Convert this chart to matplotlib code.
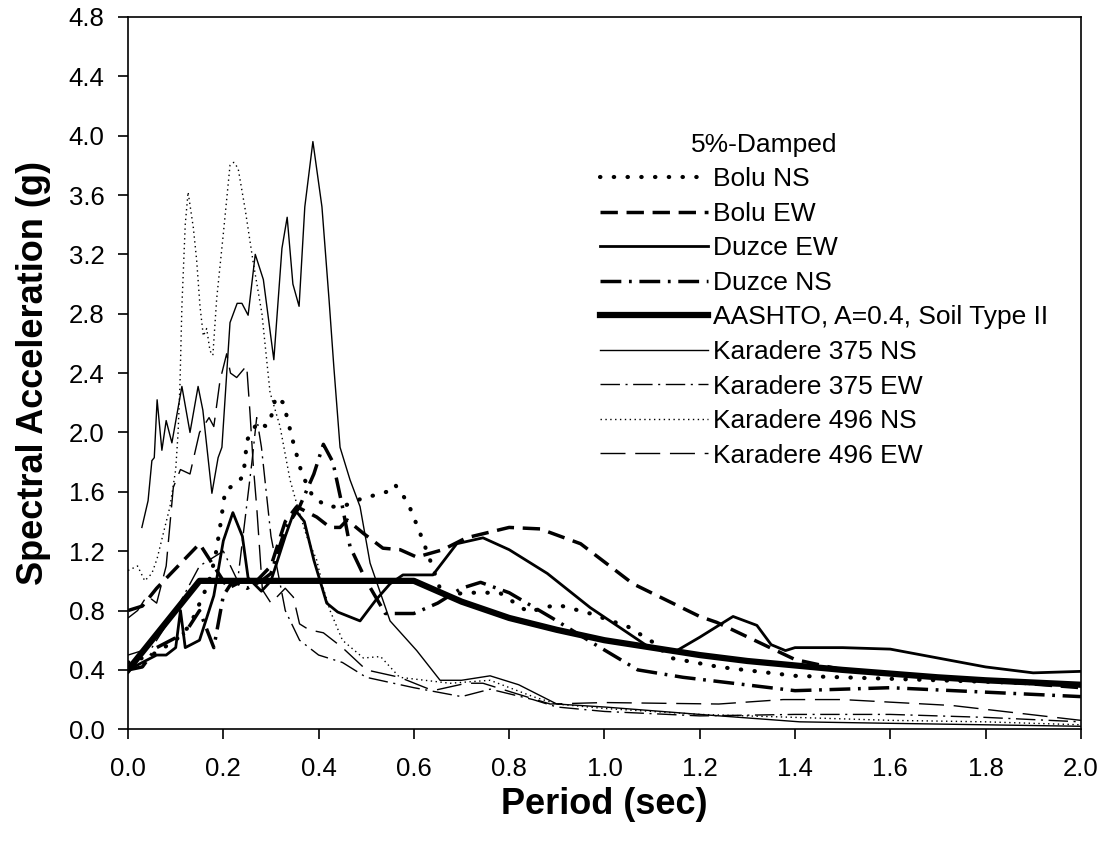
import numpy as np
import matplotlib
matplotlib.use("Agg")
import matplotlib.pyplot as plt

plt.rcParams['font.family'] = ['Liberation Sans', 'DejaVu Sans']

# --- data ---
bolu_ns_t = [0.0, 0.05, 0.1, 0.13, 0.16, 0.172, 0.183, 0.193, 0.204, 0.23, 0.242, 0.25, 0.272, 0.29, 0.3,
             0.31, 0.326, 0.347, 0.365, 0.389, 0.42, 0.45, 0.487, 0.543, 0.56, 0.587, 0.612, 0.634, 0.66,
             0.71, 0.78, 0.84, 0.9, 0.97, 1.05, 1.1, 1.14, 1.24, 1.4, 1.6, 1.8, 2.0]
bolu_ns_sa = [0.45, 0.5, 0.6, 0.7, 0.92, 1.02, 1.16, 1.36, 1.61, 1.66, 1.71, 1.95, 2.07, 2.04, 2.1,
              2.24, 2.2, 1.93, 1.72, 1.56, 1.5, 1.5, 1.55, 1.6, 1.65, 1.53, 1.33, 1.14, 0.9,
              0.92, 0.92, 0.79, 0.84, 0.78, 0.69, 0.59, 0.48, 0.42, 0.36, 0.34, 0.32, 0.3]

bolu_ew_t = [0.0, 0.03, 0.06, 0.09, 0.12, 0.15, 0.18, 0.21, 0.24, 0.27, 0.3, 0.33, 0.354, 0.396, 0.424,
             0.445, 0.46, 0.494, 0.535, 0.571, 0.606, 0.661, 0.71, 0.8, 0.865, 0.95, 1.06, 1.2, 1.236,
             1.4, 1.5, 1.6, 1.8, 2.0]
bolu_ew_sa = [0.8, 0.83, 0.95, 1.05, 1.15, 1.25, 1.1, 0.95, 1.0, 1.0, 1.1, 1.4, 1.5, 1.43, 1.36,
              1.36, 1.41, 1.32, 1.22, 1.21, 1.16, 1.21, 1.29, 1.36, 1.35, 1.25, 0.98, 0.76, 0.72,
              0.47, 0.4, 0.37, 0.33, 0.28]

duzce_ew_t = [0.0, 0.03, 0.06, 0.08, 0.1, 0.11, 0.12, 0.15, 0.18, 0.2, 0.22, 0.24, 0.252, 0.28, 0.3,
              0.33, 0.35, 0.37, 0.39, 0.417, 0.44, 0.487, 0.52, 0.55, 0.577, 0.64, 0.69, 0.745, 0.8,
              0.88, 0.97, 1.095, 1.152, 1.2, 1.27, 1.32, 1.35, 1.38, 1.4, 1.5, 1.6, 1.7, 1.8, 1.9, 2.0]
duzce_ew_sa = [0.4, 0.45, 0.5, 0.5, 0.55, 0.8, 0.55, 0.6, 0.9, 1.27, 1.46, 1.3, 1.02, 0.93, 1.0,
               1.3, 1.48, 1.4, 1.14, 0.85, 0.79, 0.73, 0.87, 0.98, 1.04, 1.04, 1.25, 1.29, 1.21,
               1.05, 0.82, 0.55, 0.53, 0.62, 0.76, 0.7, 0.57, 0.53, 0.55, 0.55, 0.54, 0.48, 0.42, 0.38, 0.39]

duzce_ns_t = [0.0, 0.03, 0.06, 0.09, 0.12, 0.15, 0.18, 0.2, 0.22, 0.25, 0.28, 0.3, 0.33, 0.36, 0.39,
              0.41, 0.43, 0.45, 0.466, 0.5, 0.54, 0.6, 0.65, 0.7, 0.74, 0.8, 0.89, 0.976, 1.07, 1.165,
              1.27, 1.4, 1.6, 1.8, 2.0]
duzce_ns_sa = [0.4, 0.42, 0.55, 0.6, 0.65, 0.8, 0.55, 0.9, 1.0, 0.95, 1.0, 1.05, 1.35, 1.5, 1.72,
               1.92, 1.8, 1.5, 1.23, 1.0, 0.78, 0.78, 0.85, 0.95, 0.99, 0.92, 0.75, 0.58, 0.4, 0.35,
               0.31, 0.26, 0.28, 0.25, 0.22]

aashto_t = [0.0, 0.15, 0.6, 0.7, 0.8, 0.9, 1.0, 1.1, 1.2, 1.3, 1.4, 1.5, 1.6, 1.7, 1.8, 1.9, 2.0]
aashto_sa = [0.4, 1.0, 1.0, 0.86, 0.75, 0.67, 0.6, 0.55, 0.5, 0.46, 0.43, 0.4, 0.375, 0.35, 0.33, 0.315, 0.3]

k375ns_t = [0.029, 0.042, 0.05, 0.055, 0.061, 0.071, 0.08, 0.092, 0.113, 0.13, 0.147, 0.157, 0.176,
            0.189, 0.197, 0.214, 0.229, 0.239, 0.252, 0.267, 0.284, 0.306, 0.323, 0.334, 0.346, 0.359,
            0.371, 0.388, 0.407, 0.422, 0.432, 0.445, 0.466, 0.487, 0.508, 0.55, 0.606, 0.655, 0.7,
            0.76, 0.82, 0.9, 1.0, 1.2, 1.41, 1.6, 1.8, 2.0]
k375ns_sa = [1.36, 1.54, 1.81, 1.83, 2.22, 1.88, 2.08, 1.93, 2.31, 2.0, 2.31, 2.15, 1.59,
             1.83, 1.9, 2.74, 2.87, 2.87, 2.79, 3.2, 3.03, 2.49, 3.24, 3.45, 3.0, 2.85,
             3.52, 3.96, 3.52, 2.89, 2.44, 1.9, 1.68, 1.5, 1.12, 0.73, 0.53, 0.33, 0.33,
             0.36, 0.3, 0.17, 0.15, 0.1, 0.05, 0.04, 0.03, 0.02]

k375ew_t = [0.0, 0.05, 0.1, 0.15, 0.2, 0.23, 0.26, 0.27, 0.28, 0.3, 0.33, 0.36, 0.4, 0.45, 0.5, 0.6,
            0.7, 0.76, 0.85, 0.9, 1.0, 1.2, 1.4, 1.6, 1.8, 2.0]
k375ew_sa = [0.5, 0.55, 0.8, 1.1, 1.2, 1.0, 1.8, 2.1, 1.9, 1.3, 0.8, 0.6, 0.5, 0.45, 0.35, 0.28,
             0.22, 0.27, 0.2, 0.15, 0.12, 0.09, 0.1, 0.1, 0.08, 0.05]

k496ns_t = [0.0, 0.02, 0.035, 0.05, 0.061, 0.074, 0.088, 0.1, 0.105, 0.109, 0.113, 0.12, 0.126, 0.137,
            0.144, 0.151, 0.158, 0.165, 0.172, 0.178, 0.186, 0.2, 0.214, 0.222, 0.231, 0.246, 0.262,
            0.281, 0.298, 0.319, 0.34, 0.354, 0.375, 0.396, 0.41, 0.424, 0.45, 0.494, 0.53, 0.57,
            0.676, 0.76, 0.85, 0.9, 1.0, 1.2, 1.4, 1.6, 1.8, 2.0]
k496ns_sa = [1.07, 1.1, 1.0, 1.05, 1.15, 1.32, 1.5, 1.75, 2.0, 2.33, 2.85, 3.4, 3.62, 3.38,
             3.16, 2.85, 2.65, 2.7, 2.55, 2.52, 2.9, 3.34, 3.8, 3.82, 3.78, 3.5, 3.16,
             2.8, 2.27, 2.04, 1.68, 1.52, 1.3, 1.14, 0.95, 0.8, 0.6, 0.48, 0.49, 0.35,
             0.31, 0.33, 0.22, 0.17, 0.14, 0.1, 0.08, 0.06, 0.05, 0.03]

k496ew_t = [0.0, 0.02, 0.04, 0.06, 0.08, 0.095, 0.11, 0.13, 0.15, 0.17, 0.18, 0.193, 0.207, 0.215,
            0.228, 0.249, 0.256, 0.263, 0.27, 0.282, 0.3, 0.33, 0.347, 0.36, 0.38, 0.41, 0.45, 0.5,
            0.57, 0.64, 0.71, 0.745, 0.815, 0.886, 1.0, 1.24, 1.375, 1.5, 1.73, 2.0]
k496ew_sa = [0.75, 0.8, 0.9, 0.85, 1.1, 1.63, 1.75, 1.72, 2.0, 2.1, 2.04, 2.35, 2.53, 2.4,
             2.37, 2.45, 2.13, 1.77, 1.5, 0.94, 0.85, 0.95, 0.89, 0.71, 0.67, 0.65, 0.55, 0.4,
             0.35, 0.26, 0.31, 0.31, 0.24, 0.17, 0.18, 0.17, 0.2, 0.2, 0.16, 0.06]

fig = plt.figure(figsize=(11.04, 8.46), dpi=100)
ax = fig.add_axes([0.116, 0.138, 0.863, 0.842])

ax.plot(bolu_ns_t, bolu_ns_sa, color='k', lw=3, linestyle=(0, (0.1, 3.2)), dash_capstyle='round',
        label='Bolu NS')
ax.plot(bolu_ew_t, bolu_ew_sa, color='k', lw=2.5, linestyle=(0, (5, 2.5)), label='Bolu EW')
ax.plot(duzce_ew_t, duzce_ew_sa, color='k', lw=2, label='Duzce EW')
ax.plot(duzce_ns_t, duzce_ns_sa, color='k', lw=2.5, linestyle=(0, (6, 2.2, 0.8, 2.2)), label='Duzce NS')
ax.plot(aashto_t, aashto_sa, color='k', lw=4.5, label='AASHTO, A=0.4, Soil Type II')
ax.plot(k375ns_t, k375ns_sa, color='k', lw=1, label='Karadere 375 NS')
ax.plot(k375ew_t, k375ew_sa, color='k', lw=1, linestyle=(0, (14, 4, 1.5, 4)), label='Karadere 375 EW')
ax.plot(k496ns_t, k496ns_sa, color='k', lw=1, linestyle=(0, (1, 2.5)), label='Karadere 496 NS')
ax.plot(k496ew_t, k496ew_sa, color='k', lw=1, linestyle=(0, (18, 7)), label='Karadere 496 EW')

ax.set_xlim(0, 2.0)
ax.set_ylim(0, 4.8)
ax.set_xticks(np.arange(0, 2.01, 0.2))
ax.set_yticks(np.arange(0, 4.81, 0.4))
ax.xaxis.set_major_formatter(matplotlib.ticker.FormatStrFormatter('%.1f'))
ax.yaxis.set_major_formatter(matplotlib.ticker.FormatStrFormatter('%.1f'))
ax.tick_params(direction='out', length=7, width=1.2, labelsize=18.5, top=False, right=False)
ax.tick_params(axis='x', pad=13)
ax.tick_params(axis='y', pad=10)
for s in ax.spines.values():
    s.set_linewidth(1.2)

ax.set_xlabel('Period (sec)', fontsize=26, fontweight='bold', labelpad=4)
ax.set_ylabel('Spectral Acceleration (g)', fontsize=26, fontweight='bold', labelpad=13)

ax.text(0.591, 0.82, '5%-Damped', transform=ax.transAxes, fontsize=19, va='center', ha='left')
ax.legend(loc='upper left', bbox_to_anchor=(0.495, 0.789), frameon=False, fontsize=19,
          handlelength=4.1, handletextpad=0.2, labelspacing=0.40, borderpad=0, borderaxespad=0)

fig.savefig('out.png', dpi=100)
